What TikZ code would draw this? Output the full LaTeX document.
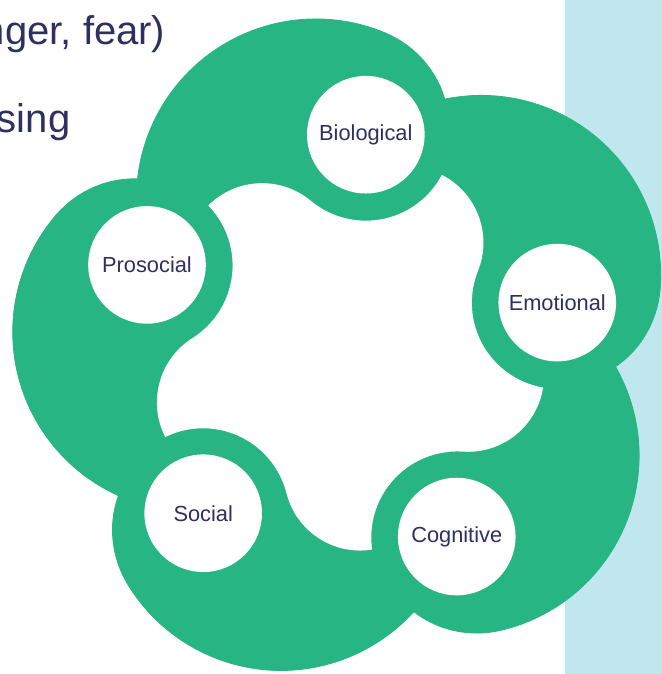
\documentclass[tikz,border=0pt]{standalone}
\usepackage{fontspec}
\setmainfont{Liberation Sans}
\usetikzlibrary{calc}
\definecolor{lobe}{HTML}{27B584}
\definecolor{panel}{HTML}{C0E6EE}
\definecolor{ink}{HTML}{2D3061}
\begin{document}
\begin{tikzpicture}[x=1pt,y=1pt,
  declare function={rr(\t)=179.4-16.8*(max(0,\t-0.78)/0.22)^2;},
  nodecirc/.style={circle, fill=white, minimum size=117.6pt, inner sep=0pt, text=ink,
    font=\fontsize{21.8}{26}\selectfont},
  bigtext/.style={anchor=base east, inner sep=0pt, text=ink, font=\fontsize{40}{48}\selectfont}]
\useasboundingbox (0,0) rectangle (661,674);
\coordinate (O) at (346,323.6);
% cut-off slide text
\node[bigtext] (line1) at (165.5,629) {nger, fear)};
\node[bigtext] (line2) at (70.5,541) {sing};
% light blue side panel
\fill[panel] (564.5,-2) rectangle (664,676);
% five green lobes
\foreach \k in {0,...,4}{
  \begin{scope}[rotate around={-72*\k:(O)}]
    \path[fill=lobe, draw=lobe, line width=0.8pt, line join=round] (O) --
      plot[domain=0:1, samples=90, variable=\t]
      ({481.30+rr(\t)*cos(101.7-136.1*\t)}, {399.22+rr(\t)*sin(101.7-136.1*\t)}) -- cycle;
  \end{scope}
}
% white inner region
\fill[white] ($(O)+(84.75:216.6pt)+(230.2:86pt)$)
  arc[start angle=230.2, end angle=332.12, radius=86pt]
  arc[start angle=63.08, end angle=-21.8, radius=76pt]
  arc[start angle=158.2, end angle=260.12, radius=86pt]
  arc[start angle=-8.92, end angle=-93.8, radius=76pt]
  arc[start angle=86.2, end angle=188.12, radius=86pt]
  arc[start angle=-80.92, end angle=-165.8, radius=76pt]
  arc[start angle=14.2, end angle=116.12, radius=86pt]
  arc[start angle=-152.92, end angle=-237.8, radius=76pt]
  arc[start angle=-57.8, end angle=44.12, radius=86pt]
  arc[start angle=-224.92, end angle=-309.8, radius=76pt]
  -- cycle;
% nodes
\node[nodecirc] (bio) at ($(O)+(84.75:216.6pt)$) {Biological};
\node[nodecirc] (emo) at ($(O)+(12.75:216.6pt)$) {Emotional};
\node[nodecirc] (cog) at ($(O)+(-59.25:216.6pt)$) {Cognitive};
\node[nodecirc] (soc) at ($(O)+(-131.25:216.6pt)$) {Social};
\node[nodecirc] (pro) at ($(O)+(156.75:216.6pt)$) {Prosocial};
\end{tikzpicture}
\end{document}
